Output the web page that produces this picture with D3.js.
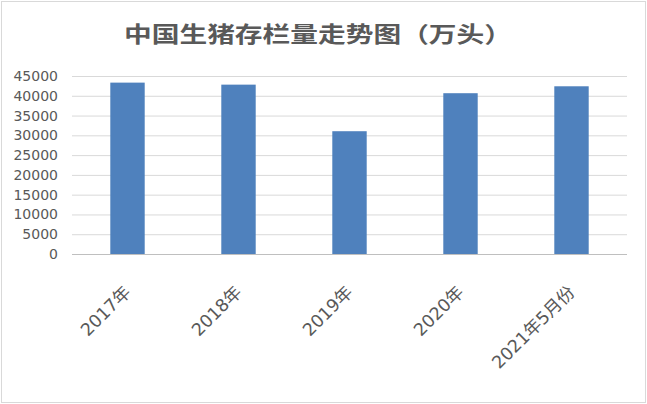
<!DOCTYPE html>
<html><head><meta charset="utf-8">
<script src="https://cdn.jsdelivr.net/npm/d3@7"></script>
<style>body{margin:0;background:#fff}svg{display:block}</style>
</head><body>
<svg id="c" width="647" height="404"></svg>
<script>
const categories = ["2017年","2018年","2019年","2020年","2021年5月份"];
const values = [43325, 42817, 31041, 40650, 42400];
const yTicks = [0,5000,10000,15000,20000,25000,30000,35000,40000,45000];
const title = "中国生猪存栏量走势图（万头）";

const svg = d3.select("#c");
const W = 647, H = 404;
const m = {left:72, right:20, top:76, bottom:150};
svg.append("rect").attr("x",1.5).attr("y",1.5).attr("width",W-3).attr("height",H-3)
  .attr("fill","#fff").attr("stroke","#d9d9d9");

const x = d3.scaleBand().domain(categories).range([m.left, W-m.right]).paddingInner(0).paddingOuter(0);
const y = d3.scaleLinear().domain([0,45000]).range([254, 76]);

const g = svg.append("g");
g.selectAll("line.grid").data(yTicks).join("line")
  .attr("x1", m.left).attr("x2", W-m.right)
  .attr("y1", d=>y(d)+0.5).attr("y2", d=>y(d)+0.5)
  .attr("stroke", d=> d===0 ? "#bfbfbf" : "#d9d9d9").attr("stroke-width",1);

const yAxis = d3.axisLeft(y).tickValues(yTicks).tickSize(0).tickPadding(0).tickFormat(d=>d);
const ya = svg.append("g").attr("transform",`translate(58,0)`).call(yAxis);
ya.select(".domain").remove();
ya.selectAll("text").attr("font-family","DejaVu Sans, sans-serif").attr("font-size","14px").attr("fill","#595959");

const bw = x.bandwidth()*0.31;
g.selectAll("rect.bar").data(values).join("rect")
  .attr("x",(d,i)=>x(categories[i])+x.bandwidth()/2-bw/2)
  .attr("width",bw)
  .attr("y",d=>y(d)).attr("height",d=>y(0)-y(d))
  .attr("fill","#4f81bd");

const xAxis = d3.axisBottom(x).tickSize(0).tickPadding(0);
const xa = svg.append("g").attr("transform","translate(0,289)").call(xAxis);
xa.select(".domain").remove();
xa.selectAll(".tick text")
  .attr("font-family","DejaVu Sans, 'Noto Sans CJK SC', sans-serif").attr("font-size","17.5px").attr("fill","#595959")
  .attr("text-anchor","end").attr("dy","0.35em").attr("y",0)
  .attr("transform","rotate(-45)");

svg.append("text").attr("transform","translate(318,42) scale(1.26,1)")
  .attr("text-anchor","middle")
  .attr("font-family","'Noto Sans CJK SC', sans-serif").attr("font-size","22px").attr("font-weight","bold")
  .attr("fill","#595959").text(title);
</script>
</body></html>
